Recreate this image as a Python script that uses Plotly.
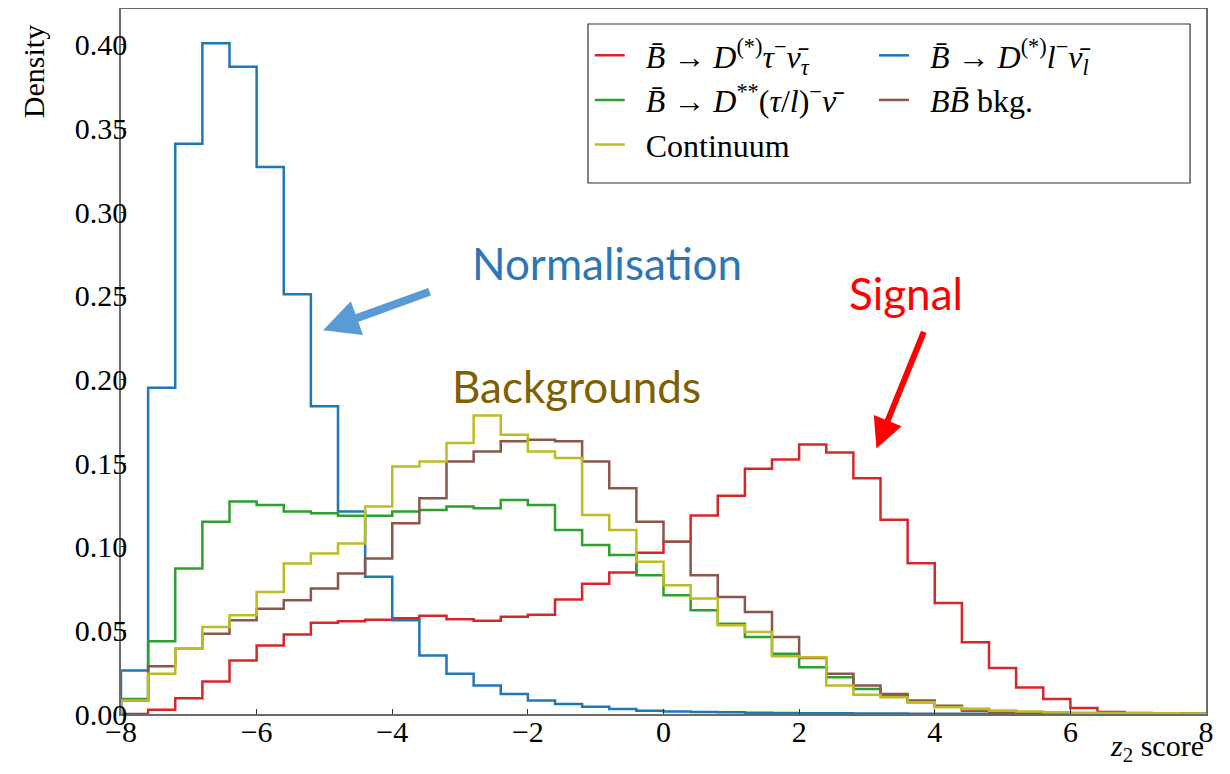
#!/usr/bin/env python

import numpy as np
import plotly.graph_objects as go

# bin layout of the z2 score histogram: 40 bins from -8 to 8
xLow, xHigh, nBins = -8.0, 8.0, 40

signalDensity = [0.0, 0.0025, 0.0094, 0.0195, 0.032, 0.041, 0.0475, 0.0545, 0.0555, 0.0563,
                 0.0573, 0.0587, 0.0566, 0.0558, 0.0582, 0.0594, 0.0684, 0.0778, 0.0846, 0.0964,
                 0.103, 0.1187, 0.1305, 0.1466, 0.1522, 0.1612, 0.1564, 0.141, 0.1161, 0.0901,
                 0.0664, 0.0429, 0.0275, 0.0159, 0.009, 0.0036, 0.0012, 0.0006, 0.0003, 0.0002]
normDensity = [0.026, 0.195, 0.341, 0.401, 0.387, 0.327, 0.251, 0.184, 0.121, 0.082,
               0.056, 0.035, 0.024, 0.017, 0.012, 0.008, 0.006, 0.0044, 0.003, 0.002,
               0.0015, 0.0012, 0.001, 0.0008, 0.0006, 0.0005, 0.0004, 0.0003, 0.0003, 0.0002,
               0.0002, 0.0001, 0.0001, 0.0001, 0.0, 0.0, 0.0, 0.0, 0.0, 0.0]
dstarstarDensity = [0.009, 0.0435, 0.087, 0.115, 0.127, 0.125, 0.121, 0.120, 0.1185, 0.1185,
                    0.121, 0.122, 0.124, 0.123, 0.128, 0.125, 0.110, 0.101, 0.095, 0.083,
                    0.071, 0.062, 0.054, 0.046, 0.036, 0.028, 0.022, 0.015, 0.011, 0.007,
                    0.0045, 0.003, 0.0018, 0.001, 0.0007, 0.0005, 0.0003, 0.0002, 0.0001, 0.0001]
bbbarDensity = [0.008, 0.0285, 0.039, 0.048, 0.056, 0.063, 0.068, 0.075, 0.084, 0.093,
                0.114, 0.129, 0.151, 0.157, 0.163, 0.164, 0.163, 0.151, 0.135, 0.115,
                0.103, 0.083, 0.070, 0.061, 0.046, 0.0335, 0.024, 0.017, 0.012, 0.008,
                0.005, 0.002, 0.001, 0.0006, 0.0004, 0.0003, 0.0002, 0.0002, 0.0001, 0.0001]
continuumDensity = [0.008, 0.024, 0.039, 0.052, 0.059, 0.073, 0.090, 0.096, 0.102, 0.124,
                    0.148, 0.151, 0.162, 0.1785, 0.167, 0.157, 0.153, 0.119, 0.110, 0.091,
                    0.077, 0.069, 0.053, 0.049, 0.0345, 0.034, 0.017, 0.0115, 0.010, 0.007,
                    0.004, 0.003, 0.002, 0.0015, 0.001, 0.0008, 0.0006, 0.0005, 0.0004, 0.0003]

pad = "\u00a0\u00a0"
names = [pad + "<i>B̄</i> → <i>D</i><sup>(*)</sup><i>τ</i><sup>−</sup><i>ν̄</i><sub><i>τ</i></sub>",
         pad + "<i>B̄</i> → <i>D</i><sup>(*)</sup><i>l</i><sup>−</sup><i>ν̄</i><sub><i>l</i></sub>",
         pad + "<i>B̄</i> → <i>D</i><sup>**</sup>(<i>τ</i>/<i>l</i>)<sup>−</sup><i>ν̄</i>",
         pad + "<i>BB̄</i> bkg.",
         pad + "Continuum"]
colors = ["#d62728", "#1f77b4", "#2ca02c", "#8c564b", "#bcbd22"]
series = [signalDensity, normDensity, dstarstarDensity, bbbarDensity, continuumDensity]
# legend column for each series (matplotlib ncol=2 layout)
legendCol = ["legend", "legend2", "legend", "legend2", "legend"]
legendRank = [1, 1, 2, 2, 3]

serif = "Liberation Serif"
sans = "Lato"


def stepTrace(values, name, color, leg, rank):
    edges = np.linspace(xLow, xHigh, nBins + 1)
    xs = np.concatenate([[edges[0]], edges])
    ys = np.concatenate([[0.0], values, [0.0]])
    return go.Scatter(x=xs, y=ys, mode='lines', name=name, legend=leg, legendrank=rank,
                      line=dict(color=color, width=2.5, shape='hv'))


def plotHist():
    data = [stepTrace(v, n, c, l, r) for v, n, c, l, r in
            zip(series, names, colors, legendCol, legendRank)]
    axisStyle = dict(showline=True, linecolor="#6b6b6b", linewidth=1.5, mirror=True,
                     ticks="inside", ticklen=5, tickcolor="#333333", showgrid=False,
                     zeroline=False, tickfont=dict(family=serif, size=30, color="black"))
    legStyle = dict(bgcolor="rgba(0,0,0,0)", borderwidth=0, yanchor='top', xanchor='left',
                    font=dict(family=serif, size=32, color="black"), tracegroupgap=0)
    layout = go.Layout(
        width=1230, height=774,
        margin=dict(l=113, r=32, t=1, b=68, autoexpand=False),
        plot_bgcolor="white", paper_bgcolor="white",
        xaxis=dict(range=[xLow, xHigh], tickvals=list(range(-8, 9, 2)), ticklabelstandoff=-10,
                   **axisStyle),
        yaxis=dict(range=[0, 0.4215], tickvals=[0, 0.05, 0.1, 0.15, 0.2, 0.25, 0.3, 0.35, 0.4],
                   tickformat=".2f", ticklabelstandoff=-14, **axisStyle),
        legend=dict(x=0.432, y=0.973, **legStyle),
        legend2=dict(x=0.694, y=0.973, **legStyle),
        showlegend=True,
    )
    fig = go.Figure(data=data, layout=layout)

    # legend frame around both legend columns
    fig.add_shape(type='rect', xref='paper', yref='paper', x0=0.4304, x1=0.9853, y0=0.7532, y1=0.9787,
                  line=dict(color="#333333", width=1.2), fillcolor="white", layer='above')

    # axis titles placed like matplotlib (x at right, y at top)
    fig.add_annotation(x=1, y=-0.048, xref='paper', yref='paper', xanchor='right', yanchor='middle',
                       text="<i>z</i><sub>2</sub> score", showarrow=False,
                       font=dict(family=serif, size=30, color="black"))
    fig.add_annotation(x=-0.081, y=0.9106, xref='paper', yref='paper', textangle=-90,
                       xanchor='center', yanchor='middle',
                       text="Density", showarrow=False,
                       font=dict(family=serif, size=30, color="black"))

    # callouts
    fig.add_annotation(x=-0.83, y=0.2695, text="Normalisation", showarrow=False,
                       font=dict(family=sans, size=44, color="#2E75B6"))
    fig.add_annotation(x=-1.29, y=0.196, text="Backgrounds", showarrow=False,
                       font=dict(family=sans, size=44, color="#7F6000"))
    fig.add_annotation(x=3.58, y=0.2516, text="Signal", showarrow=False,
                       font=dict(family=sans, size=44, color="#FF0000"))
    fig.add_annotation(x=-5.02, y=0.2294, ax=108, ay=-39, text="", showarrow=True,
                       arrowhead=2, arrowsize=0.9, arrowwidth=8, arrowcolor="#5B9BD5", standoff=0)
    fig.add_annotation(x=3.14, y=0.1588, ax=48, ay=-118, text="", showarrow=True,
                       arrowhead=2, arrowsize=1, arrowwidth=6, arrowcolor="#FF0000", standoff=0)

    fig.write_html("out.html")


def main():
    plotHist()


if __name__ == '__main__':
    main()
